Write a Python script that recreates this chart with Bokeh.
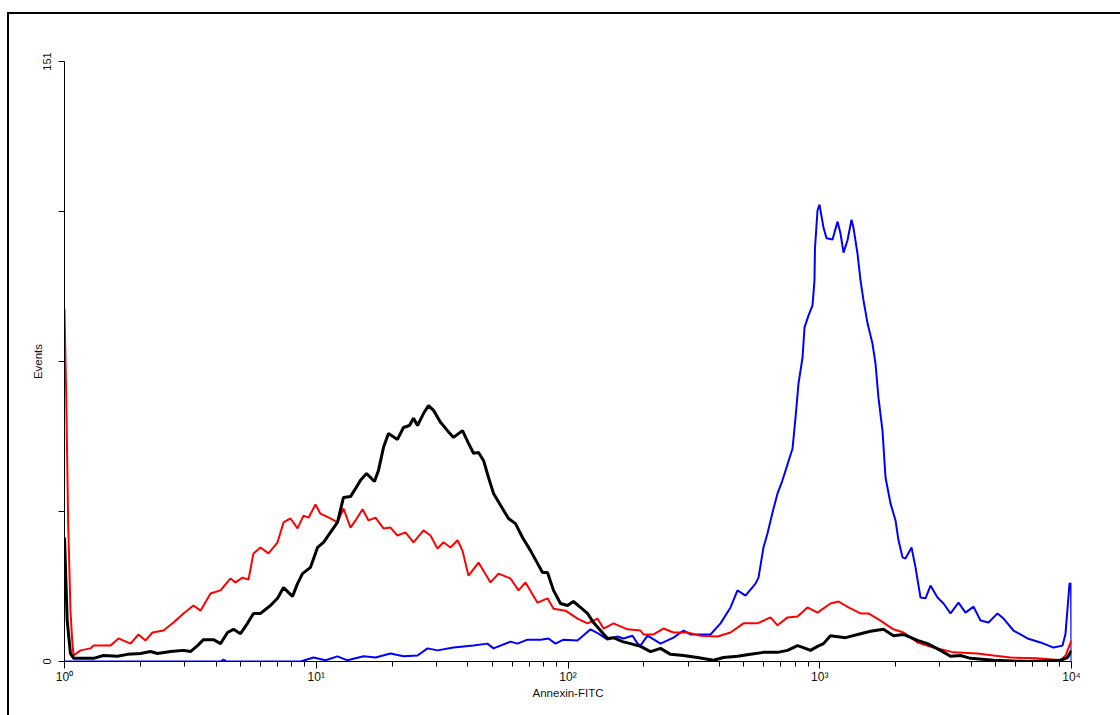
from bokeh.plotting import figure
from bokeh.models import FixedTicker
from bokeh.embed import file_html
from bokeh.resources import INLINE

# ---- data (Annexin-FITC intensity, events) ----
black_x = [1.000, 1.025, 1.056, 1.089, 1.158, 1.304, 1.428, 1.624, 1.779, 2.004,
           2.196, 2.341, 2.637, 2.970, 3.166, 3.376, 3.566, 3.906, 4.166, 4.442,
           4.691, 5.002, 5.333, 5.631, 6.005, 6.581, 7.020, 7.413, 8.050, 8.425,
           8.819, 9.489, 10.12, 10.69, 11.39, 12.14, 12.83, 13.68, 14.32, 14.99,
           15.84, 17.03, 17.67, 18.50, 19.36, 21.02, 22.21, 23.46, 24.34, 25.25,
           26.67, 27.92, 29.23, 31.15, 33.22, 35.09, 38.10, 40.26, 42.14, 44.11,
           46.18, 48.33, 50.60, 53.95, 58.03, 61.86, 65.96, 70.98, 75.66, 79.19,
           82.90, 87.59, 93.37, 99.54, 105.1, 112.1, 119.5, 126.3, 134.6, 143.6,
           151.6, 164.7, 177.1, 194.1, 212.7, 233.1, 255.4, 287.6, 326.8, 378.4,
           414.7, 471.3, 530.9, 597.7, 679.7, 744.7, 815.8, 861.8, 919.1, 979.7,
           1035, 1103, 1266, 1452, 1591, 1791, 1963, 2151, 2445, 2679,
           3017, 3307, 3624, 3971, 4900, 6687, 9045, 9641, 10000]
black_y = [31.2, 10.3, 2.0, 0.8, 0.8, 0.8, 1.5, 1.3, 1.8, 2.0,
           2.5, 2.0, 2.5, 2.8, 2.5, 4.0, 5.5, 5.5, 4.5, 7.3,
           8.1, 7.0, 9.6, 12.1, 12.1, 14.1, 15.9, 18.6, 16.4, 19.6,
           22.1, 23.7, 28.7, 30.0, 32.5, 35.0, 41.3, 41.5, 43.5, 45.6,
           47.3, 45.3, 48.1, 53.9, 57.4, 55.9, 58.9, 59.4, 61.2, 59.4,
           62.4, 64.4, 63.2, 60.2, 58.1, 56.4, 58.1, 54.9, 52.4, 52.6,
           50.6, 46.3, 42.3, 39.3, 36.0, 34.7, 31.2, 27.9, 24.7, 22.4,
           22.4, 17.9, 14.6, 14.1, 15.1, 13.6, 12.1, 9.8, 7.8, 5.8,
           6.0, 5.0, 4.5, 3.8, 2.5, 3.3, 1.8, 1.5, 1.0, 0.3,
           1.0, 1.3, 1.8, 2.3, 2.3, 2.8, 4.0, 3.5, 2.8, 3.8,
           4.5, 6.5, 6.0, 7.0, 7.6, 8.1, 6.5, 6.8, 5.3, 4.5,
           2.8, 1.3, 1.5, 0.8, 0.3, 0.0, 0.3, 1.0, 2.8]

red_x = [1.000, 1.009, 1.016, 1.025, 1.034, 1.047, 1.056, 1.073, 1.086, 1.158,
         1.268, 1.304, 1.523, 1.639, 1.829, 1.967, 2.098, 2.236, 2.473, 2.710,
         2.970, 3.253, 3.469, 3.802, 4.166, 4.565, 4.778, 5.095, 5.382, 5.631,
         6.005, 6.462, 7.020, 7.413, 7.902, 8.425, 8.900, 9.316, 9.931, 10.39,
         11.39, 12.14, 12.83, 13.68, 14.32, 15.27, 16.13, 17.19, 18.50, 19.72,
         21.02, 22.62, 24.34, 26.67, 28.44, 30.31, 32.03, 34.15, 36.40, 38.10,
         40.26, 44.11, 49.23, 52.97, 59.10, 63.60, 67.79, 75.66, 82.90, 87.59,
         97.75, 109.1, 119.5, 131.0, 138.4, 151.6, 172.3, 194.1, 199.5, 218.6,
         239.5, 262.5, 298.4, 336.0, 392.6, 442.1, 497.8, 565.7, 637.5, 679.7,
         744.7, 815.8, 894.1, 979.7, 1103, 1187, 1301, 1452, 1562, 1743,
         1963, 2151, 2445, 2830, 3398, 4232, 4900, 5724, 7328, 9045,
         9467, 10000]
red_y = [88.8, 75.8, 67.0, 50.6, 34.7, 22.1, 12.8, 5.3, 1.5, 2.8,
         3.3, 4.0, 4.0, 5.8, 4.5, 6.8, 5.3, 7.3, 7.8, 9.8,
         12.1, 14.1, 12.8, 17.1, 17.9, 20.9, 19.9, 21.1, 20.6, 27.2,
         28.7, 27.2, 30.0, 35.0, 36.0, 33.5, 36.7, 36.2, 39.5, 37.2,
         36.0, 35.0, 38.5, 33.7, 35.5, 38.3, 35.5, 36.2, 33.5, 33.7,
         31.7, 32.5, 30.0, 33.0, 31.7, 28.4, 30.0, 28.7, 30.5, 27.9,
         21.6, 24.9, 19.9, 22.1, 20.9, 17.9, 19.9, 14.8, 15.9, 13.3,
         12.8, 10.8, 9.6, 10.8, 8.3, 9.6, 8.1, 7.8, 6.8, 6.8,
         8.3, 7.3, 7.3, 6.5, 6.3, 7.3, 9.6, 9.6, 11.1, 9.1,
         11.1, 11.3, 13.6, 12.3, 14.6, 15.1, 13.6, 12.1, 12.1, 10.3,
         8.1, 7.3, 4.8, 3.5, 2.3, 2.0, 1.5, 1.0, 0.8, 0.3,
         1.5, 5.3]

blue_x = [1.000, 4.166, 4.281, 4.400, 8.658, 9.752, 10.88, 12.14, 13.31, 15.41,
          17.19, 19.72, 22.21, 25.25, 27.67, 30.31, 35.09, 42.14, 47.88, 50.60,
          59.10, 63.02, 69.04, 77.76, 83.66, 89.20, 95.96, 109.1, 122.9, 132.2,
          143.6, 157.3, 166.2, 180.4, 188.9, 194.1, 206.9, 233.1, 262.5, 287.6,
          306.7, 368.1, 403.5, 442.1, 471.3, 507.2, 555.7, 571.1, 597.7, 620.0,
          649.1, 679.7, 711.2, 779.6, 801.3, 823.5, 854.3, 870.1, 902.5, 936.0,
          953.0, 957.0, 979.7, 997.7, 1023, 1035, 1064, 1124, 1177, 1209,
          1243, 1289, 1337, 1361, 1412, 1452, 1492, 1548, 1620, 1665,
          1711, 1775, 1825, 1910, 2000, 2055, 2132, 2191, 2315, 2401,
          2513, 2631, 2754, 2936, 3102, 3307, 3557, 3793, 4081, 4350,
          4681, 5083, 5370, 5884, 6687, 7533, 8483, 9211, 9467, 9820,
          9960, 10000]
blue_y = [0.0, 0.0, 0.5, 0.0, 0.0, 1.0, 0.3, 1.3, 0.3, 1.3,
          1.0, 2.0, 1.3, 1.5, 3.3, 2.8, 3.5, 4.0, 4.5, 3.3,
          5.0, 4.5, 5.5, 5.5, 5.8, 4.5, 5.5, 5.3, 8.1, 7.0,
          5.5, 6.3, 5.8, 6.5, 4.5, 4.0, 6.5, 4.5, 6.0, 7.8,
          6.8, 6.8, 9.6, 13.6, 17.9, 16.6, 19.6, 21.1, 28.7, 32.2,
          37.5, 42.3, 45.6, 53.6, 61.4, 70.0, 76.5, 84.1, 87.1, 89.6,
          95.9, 103.9, 113.5, 115.0, 111.0, 109.2, 106.5, 106.2, 110.7, 107.7,
          102.9, 106.0, 111.2, 109.2, 102.7, 95.9, 90.9, 85.1, 80.0, 75.0,
          66.4, 58.1, 46.3, 39.8, 35.5, 30.5, 26.2, 25.9, 28.7, 23.7,
          16.1, 15.9, 19.1, 16.1, 14.6, 12.1, 14.8, 12.3, 13.8, 10.3,
          9.8, 12.1, 10.8, 7.8, 5.8, 4.8, 3.5, 4.0, 7.0, 19.6,
          19.6, 0.0]

x_major_ticks = [1, 10, 100, 1000, 10000]
x_tick_labels = {1: "10\u2070", 10: "10\u00b9", 100: "10\u00b2", 1000: "10\u00b3", 10000: "10\u2074"}
y_major_ticks = [0, 151]
y_minor_ticks = [37.75, 75.5, 113.25]

FONT = "Liberation Sans"

p = figure(width=1120, height=715, x_axis_type="log",
           x_range=(1, 10000), y_range=(0, 151),
           output_backend="svg", toolbar_location=None,
           min_border_left=64, min_border_right=49,
           min_border_top=61, min_border_bottom=54)
p.grid.visible = False
p.outline_line_color = None
p.background_fill_color = "white"
p.border_fill_color = None
# outer frame of the picture (left and top edges; the others run off the page)
p.styles = {
    "background": "linear-gradient(#000, #000) 7px 12px / 2px 3000px no-repeat, "
                  "linear-gradient(#000, #000) 7px 12px / 3000px 2px no-repeat, #fff",
}

p.line(blue_x, blue_y, line_color="#0000FF", line_width=2)
p.line(red_x, red_y, line_color="#FF0000", line_width=2)
p.line(black_x, black_y, line_color="#000000", line_width=3)

minor = [m * 10 ** d for d in range(4) for m in range(2, 10)]
xa = p.xaxis[0]
xa.ticker = FixedTicker(ticks=x_major_ticks, minor_ticks=minor)
xa.major_label_overrides = x_tick_labels
xa.axis_label = "Annexin-FITC"
xa.major_tick_out = 7
xa.major_tick_in = 0
xa.minor_tick_out = 5
xa.minor_tick_in = 0
xa.major_label_standoff = 1
xa.axis_label_standoff = 0
xa.major_label_text_font_size = "12px"

ya = p.yaxis[0]
ya.ticker = FixedTicker(ticks=y_major_ticks, minor_ticks=y_minor_ticks)
ya.axis_label = "Events"
ya.major_tick_out = 6
ya.major_tick_in = 0
ya.minor_tick_out = 6
ya.minor_tick_in = 0
ya.major_label_orientation = "vertical"
ya.major_label_standoff = 8
ya.axis_label_standoff = -4
ya.major_label_text_font_size = "11px"

for ax in (xa, ya):
    ax.axis_line_color = "black"
    ax.major_tick_line_color = "black"
    ax.minor_tick_line_color = "black"
    ax.major_label_text_font = FONT
    ax.major_label_text_color = "#111111"
    ax.axis_label_text_font = FONT
    ax.axis_label_text_font_size = "11.5px"
    ax.axis_label_text_font_style = "normal"
    ax.axis_label_text_color = "#111111"

open("out.html", "w").write(file_html(p, INLINE))
